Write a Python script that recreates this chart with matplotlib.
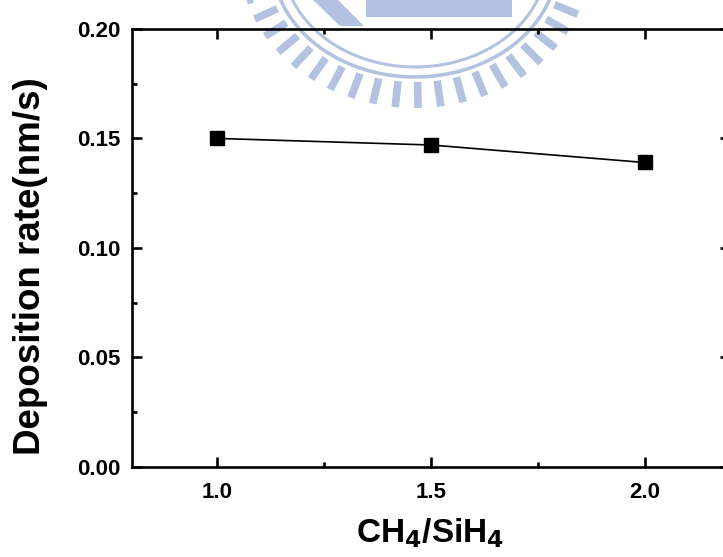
import numpy as np
import matplotlib
matplotlib.use("Agg")
import matplotlib.pyplot as plt
from matplotlib.ticker import MultipleLocator, FormatStrFormatter
from matplotlib.patches import Rectangle, Polygon

# CH4/SiH4 flow ratio vs. deposition rate
ratio = [1.0, 1.5, 2.0]
rate = [0.150, 0.147, 0.139]

x_major = [1.0, 1.5, 2.0]
y_major = [0.00, 0.05, 0.10, 0.15, 0.20]

plt.rcParams["font.family"] = ["Liberation Sans", "DejaVu Sans"]
plt.rcParams["font.weight"] = "bold"
plt.rcParams["mathtext.default"] = "bf"

W, H = 723, 557
fig = plt.figure(figsize=(W / 100, H / 100), dpi=100)

# faint seal printed behind the plot (pixel coordinates)
bg = fig.add_axes([0, 0, 1, 1], zorder=0)
bg.set_xlim(0, W)
bg.set_ylim(H, 0)
bg.axis("off")
seal = "#b3c2e1"
cx, cy = 415, -40
t = np.linspace(np.radians(190), np.radians(350), 200)
for a, b, lw in [(132, 107, 2.2), (143, 117, 2.6)]:
    bg.plot(cx + a * np.cos(t), cy - b * np.sin(t), color=seal, lw=lw,
            solid_capstyle="butt")
for ang in np.arange(196, 346, 7.5):
    r = np.radians(ang)
    bg.plot([cx + 150 * np.cos(r), cx + 175 * np.cos(r)],
            [cy - 122 * np.sin(r), cy - 148 * np.sin(r)],
            color=seal, lw=5.5, solid_capstyle="butt")
bg.add_patch(Rectangle((366, -2), 146, 19, facecolor=seal, edgecolor="none"))
bg.add_patch(Polygon([(311, -2), (336, -2), (364, 26), (340, 26)],
                     closed=True, facecolor=seal, edgecolor="none"))

ax = fig.add_axes([131.7 / W, 1 - 466.7 / H, (730 - 131.7) / W, (466.7 - 29) / H],
                  zorder=1)
ax.set_facecolor("none")

ax.plot(ratio, rate, color="black", lw=1.2, marker="s", markersize=10,
        markerfacecolor="black", markeredgecolor="black", clip_on=False)

ax.set_xlim(0.8, 2.2)
ax.set_ylim(0.0, 0.2)
ax.set_xticks(x_major)
ax.set_yticks(y_major)
ax.xaxis.set_minor_locator(MultipleLocator(0.25))
ax.yaxis.set_minor_locator(MultipleLocator(0.025))
ax.xaxis.set_major_formatter(FormatStrFormatter("%.1f"))
ax.yaxis.set_major_formatter(FormatStrFormatter("%.2f"))

for s in ax.spines.values():
    s.set_linewidth(1.9)
ax.tick_params(which="both", direction="in", top=True, right=True, width=1.9)
ax.tick_params(which="major", length=7)
ax.tick_params(which="minor", length=3.5)
ax.tick_params(axis="x", which="major", pad=11, labelsize=16)
ax.tick_params(axis="y", which="major", pad=8, labelsize=16)
for lab in ax.get_xticklabels() + ax.get_yticklabels():
    lab.set_fontweight("bold")

fig.text(31 / W, 1 - 266 / H, "Deposition rate(nm/s)", rotation=90,
         ha="center", va="center", fontsize=26.5, fontweight="bold")
fig.text(430 / W, 1 - 542 / H, r"CH$_4$/SiH$_4$", ha="center", va="baseline",
         fontsize=24, fontweight="bold")

fig.savefig("out.png", dpi=100)
